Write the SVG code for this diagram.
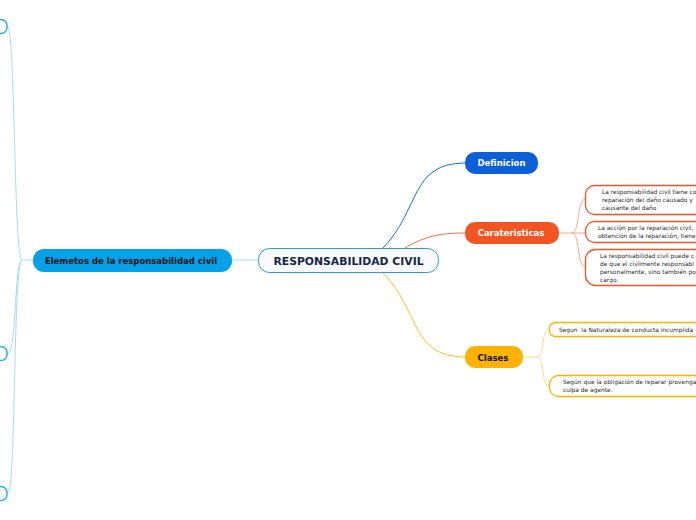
<svg xmlns="http://www.w3.org/2000/svg" width="696" height="520" viewBox="0 0 696 520">
<style>
.c{fill:none;stroke-width:1}
.lb{stroke:#a6dcf5}
.t{font-family:"DejaVu Sans",Verdana,sans-serif}
.b{font-weight:bold}
.sm{font-size:5.9px;fill:#2a2a2a;white-space:pre}
</style>
<rect width="696" height="520" fill="#ffffff"/>
<g id="connectors">
<path class="c lb" d="M232,260 H258"/>
<path class="c lb" d="M33,260 H22"/>
<path class="c lb" d="M22,260 C14,260 15,32 8,27"/>
<path class="c lb" d="M22,260 C14,262 17,350 8,354"/>
<path class="c lb" d="M22,260 C13,264 16,490 8,493"/>
<path class="c" stroke="#1a6fe0" d="M383,248 C420,210 410,163 465,163"/>
<path class="c" stroke="#f4704a" d="M405,248 C425,236 440,233 465,233"/>
<path class="c" stroke="#ffbf1f" d="M383,273 C420,310 410,357 465,357"/>
<path class="c" stroke="#f9a98c" d="M559,233 H572 C580,233 577,199 585,199"/>
<path class="c" stroke="#f9a98c" d="M572,233 H585"/>
<path class="c" stroke="#f9a98c" d="M572,233 C580,233 577,267 585,267"/>
<path class="c" stroke="#ffd98a" d="M523,357 H537 C545,357 541,329 549,329"/>
<path class="c" stroke="#ffd98a" d="M537,357 C545,357 541,386 549,386"/>
</g>
<g id="left1"><rect x="-20" y="19.5" width="27" height="14" rx="6" fill="#fff" stroke="#29aee8" stroke-width="1.5"/></g>
<g id="left2"><rect x="-20" y="346.5" width="27" height="14" rx="6" fill="#fff" stroke="#29aee8" stroke-width="1.5"/></g>
<g id="left3"><rect x="-20" y="486.5" width="27" height="14" rx="6" fill="#fff" stroke="#29aee8" stroke-width="1.5"/></g>
<g id="elementos">
<rect x="33" y="249" width="199" height="23" rx="11" fill="#03a1e8"/>
<text class="t b" x="131" y="263.5" font-size="8.5" text-anchor="middle" fill="#111">Elemetos de la responsabilidad civil</text>
</g>
<g id="central">
<rect x="258.5" y="248.5" width="180" height="24" rx="11" fill="#f7fbff" stroke="#2a9be0" stroke-width="1"/>
<text class="t b" x="348.5" y="264.5" font-size="10.8" text-anchor="middle" fill="#15264a">RESPONSABILIDAD CIVIL</text>
</g>
<g id="definicion">
<rect x="465" y="152" width="73" height="22" rx="10" fill="#0b5fd8"/>
<text class="t b" x="501.5" y="166" font-size="8.5" text-anchor="middle" fill="#fff">Definicion</text>
</g>
<g id="caracteristicas">
<rect x="465" y="222" width="94" height="22" rx="10" fill="#f25522"/>
<text class="t b" x="511" y="236" font-size="8.5" text-anchor="middle" fill="#fff">Carateristicas</text>
</g>
<g id="clases">
<rect x="465" y="346" width="58" height="22" rx="10" fill="#ffb300"/>
<text class="t b" x="493" y="360.5" font-size="8.5" text-anchor="middle" fill="#111">Clases</text>
</g>
<g id="car1">
<rect x="585.5" y="185.5" width="130" height="29" rx="9" fill="#fff" stroke="#f25522" stroke-width="1.3"/>
<text class="t sm" x="602" y="194">La responsabilidad civil tiene co</text>
<text class="t sm" x="602" y="202">reparación del daño causado y</text>
<text class="t sm" x="602" y="210">causante del daño</text>
</g>
<g id="car2">
<rect x="585.5" y="221.5" width="130" height="21" rx="9" fill="#fff" stroke="#f25522" stroke-width="1.3"/>
<text class="t sm" x="598" y="230">La acción por la reparación civil,</text>
<text class="t sm" x="598" y="238">obtención de la reparación, tiene</text>
</g>
<g id="car3">
<rect x="585.5" y="249.5" width="130" height="36" rx="10" fill="#fff" stroke="#f25522" stroke-width="1.3"/>
<text class="t sm" x="600" y="258">La responsabilidad civil puede c</text>
<text class="t sm" x="600" y="266">de que el civilmente responsabl</text>
<text class="t sm" x="600" y="274">personalmente, sino también po</text>
<text class="t sm" x="600" y="282">cargo.</text>
</g>
<g id="cla1">
<rect x="549.5" y="322.5" width="170" height="14" rx="6" fill="#fff" stroke="#ffb300" stroke-width="1.3"/>
<text class="t sm" x="559" y="331.5" xml:space="preserve">Segun  la Naturaleza de conducta incumplida</text>
</g>
<g id="cla2">
<rect x="549.5" y="375.5" width="170" height="21" rx="9" fill="#fff" stroke="#ffb300" stroke-width="1.3"/>
<text class="t sm" x="563" y="384">Según que la obligación de reparar provenga</text>
<text class="t sm" x="563" y="392">culpa de agente.</text>
</g>
</svg>
